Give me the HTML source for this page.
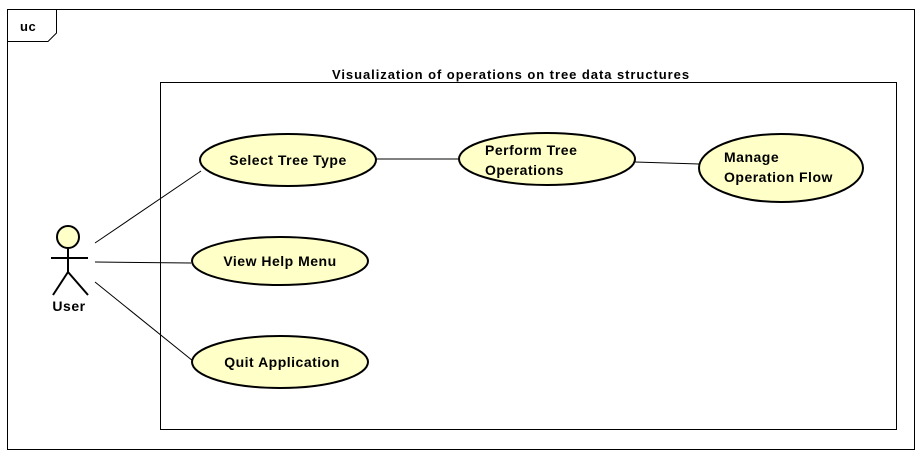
<!DOCTYPE html>
<html><head><style>html,body{margin:0;padding:0;background:#fff;}svg{display:block;}text{font-family:"Liberation Sans",sans-serif;font-weight:bold;font-size:14px;fill:#000;letter-spacing:0.5px;}</style></head>
<body>
<svg width="923" height="456" viewBox="0 0 923 456" xmlns="http://www.w3.org/2000/svg">
<rect x="7.5" y="9.5" width="907" height="440" fill="#fff" stroke="#000"/>
<path d="M7.5 41.5 H48 L56.5 33 V9.5" fill="none" stroke="#000"/>
<text x="20" y="31" style="font-size:13px">uc</text>
<rect x="160.5" y="82.5" width="736" height="347" fill="#fff" stroke="#000"/>
<text x="511" y="79" text-anchor="middle" style="font-size:13px;letter-spacing:0.95px">Visualization of operations on tree data structures</text>
<g stroke="#000" stroke-width="1" fill="none">
<line x1="95" y1="243" x2="201" y2="171"/>
<line x1="95" y1="262" x2="191" y2="263"/>
<line x1="95" y1="282" x2="193" y2="361"/>
<line x1="376" y1="159" x2="459" y2="159"/>
<line x1="635" y1="162" x2="699" y2="164"/>
</g>
<g fill="#ffffc8" stroke="#000" stroke-width="2">
<ellipse cx="288" cy="160" rx="88" ry="26"/>
<ellipse cx="547" cy="159" rx="88" ry="26"/>
<ellipse cx="781" cy="168" rx="82" ry="34"/>
<ellipse cx="280" cy="261" rx="88" ry="24"/>
<ellipse cx="280" cy="362" rx="88" ry="26"/>
</g>
<text x="288" y="165" text-anchor="middle">Select Tree Type</text>
<text x="485" y="155">Perform Tree</text>
<text x="485" y="175">Operations</text>
<text x="724" y="162">Manage</text>
<text x="724" y="182">Operation Flow</text>
<text x="280" y="266" text-anchor="middle">View Help Menu</text>
<text x="282" y="367" text-anchor="middle">Quit Application</text>
<g stroke="#000" stroke-width="2" fill="none">
<circle cx="68" cy="237" r="11" fill="#ffffc8"/>
<line x1="68" y1="248" x2="68" y2="273"/>
<line x1="51" y1="258" x2="88" y2="258"/>
<line x1="68" y1="272" x2="53" y2="295"/>
<line x1="68" y1="272" x2="88" y2="295"/>
</g>
<text x="69" y="311" text-anchor="middle">User</text>
</svg>
</body></html>
